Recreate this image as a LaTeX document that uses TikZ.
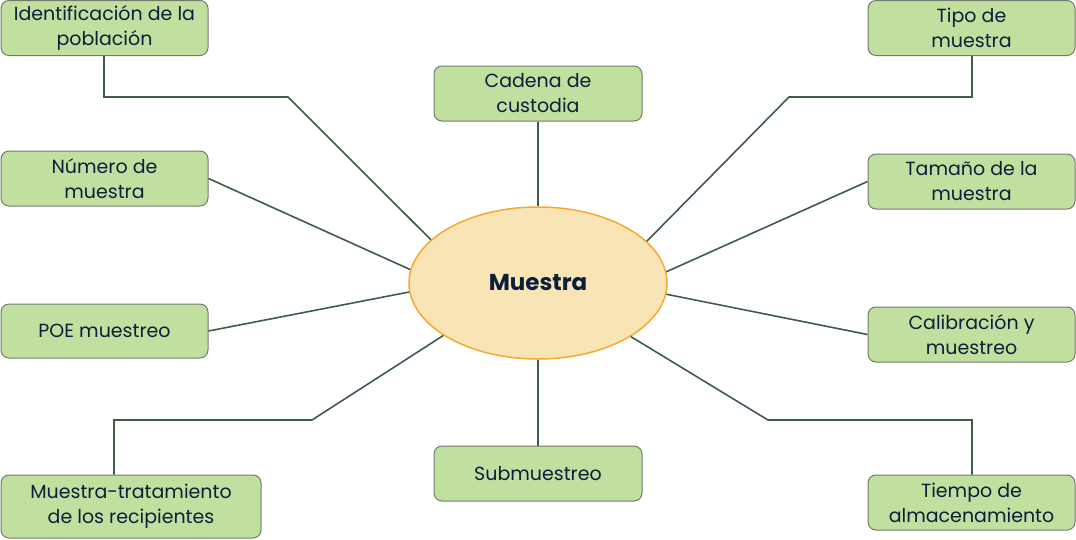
\documentclass[tikz,border=0pt]{standalone}
\usepackage{fontspec}
\setmainfont{Poppins}
\usetikzlibrary{shapes.geometric,calc}
\definecolor{boxfill}{HTML}{C1DF9E}
\definecolor{boxdraw}{HTML}{727C6E}
\definecolor{linkc}{HTML}{3E5E44}
\definecolor{ellfill}{HTML}{F9E4B6}
\definecolor{elldraw}{HTML}{F7A830}
\definecolor{txt}{HTML}{0A1F3C}
\begin{document}
\begin{tikzpicture}[x=1pt,y=-1pt,
  box/.style={draw=boxdraw,fill=boxfill,line width=1pt,rounded corners=8pt,
    minimum width=207pt,minimum height=55pt,inner sep=0pt,align=center,
    text=txt,font=\fontsize{19}{25}\selectfont},
  link/.style={draw=linkc,line width=1.6pt}]
\useasboundingbox (0,0) rectangle (1076,539);
\node[ellipse,draw=elldraw,fill=ellfill,line width=1.5pt,minimum width=258pt,minimum height=152pt,inner sep=0pt,text=txt,font=\fontsize{23}{26}\selectfont\bfseries] (m) at (538,283) {Muestra};
\node[box] (id) at (104.5,28) {Identificación de la\\población};
\node[box] (tipo) at (971.5,28) {Tipo de\\muestra};
\node[box,minimum width=208pt] (cad) at (538,93.5) {Cadena de\\custodia};
\node[box] (num) at (104.5,178.5) {Número de\\muestra};
\node[box] (tam) at (971.5,181.5) {Tamaño de la\\muestra};
\node[box,minimum height=54pt] (poe) at (104.5,331) {POE muestreo};
\node[box] (cal) at (971.5,334.5) {Calibración y\\muestreo};
\node[box,minimum width=260pt,minimum height=63pt] (mt) at (131,506.5) {Muestra-tratamiento\\de los recipientes};
\node[box,minimum width=208pt] (sub) at (538,473.5) {Submuestreo};
\node[box] (tie) at (971.5,502.5) {Tiempo de\\almacenamiento};
\coordinate (id1) at (104,97);
\coordinate (id2) at (288,97);
\coordinate (ti1) at (972,97);
\coordinate (ti2) at (789,97);
\coordinate (mt1) at (114,420);
\coordinate (mt2) at (312,420);
\coordinate (te1) at (972,420);
\coordinate (te2) at (768,420);
\draw[link] (id.south -| id1) -- (id1) -- (id2) -- (m.158.3);
\draw[link] (tipo.south -| ti1) -- (ti1) -- (ti2) -- (m.21.7);
\draw[link] (cad.south) -- (m.north);
\draw[link] (num.east) -- (m.174.2);
\draw[link] (tam.west) -- (m.5.8);
\draw[link] (poe.east) -- (m.184.9);
\draw[link] (cal.west) -- (m.355.1);
\draw[link] (mt.north -| mt1) -- (mt1) -- (mt2) -- (m.209.2);
\draw[link] (sub.north) -- (m.south);
\draw[link] (tie.north -| te1) -- (te1) -- (te2) -- (m.330.6);
\end{tikzpicture}
\end{document}
